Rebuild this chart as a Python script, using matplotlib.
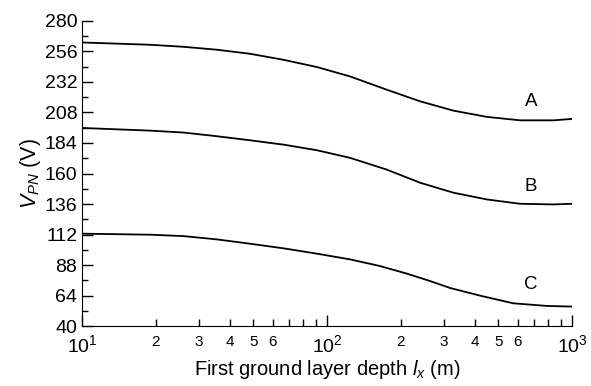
import matplotlib
matplotlib.use("Agg")
import matplotlib.pyplot as plt
from matplotlib.ticker import FixedLocator, FixedFormatter

plt.rcParams['font.family'] = ['Liberation Sans', 'DejaVu Sans']
plt.rcParams['mathtext.fontset'] = 'custom'
plt.rcParams['mathtext.rm'] = 'Liberation Sans'
plt.rcParams['mathtext.it'] = 'Liberation Sans:italic'

depth_a = [10, 18.95, 25.9, 35.5, 48.5, 66.3, 90.8, 124.1, 175, 240, 328, 449, 614, 839, 1000]
curve_a = [263.0, 261.2, 259.6, 257.3, 254.1, 249.4, 243.7, 236.3, 225.9, 216.7, 209.4, 204.5, 201.8, 201.8, 202.9]
depth_b = [10, 18.95, 25.9, 35.5, 48.5, 66.3, 90.8, 124.1, 175, 240, 328, 449, 614, 839, 1000]
curve_b = [195.8, 193.7, 192.2, 189.3, 186.1, 182.7, 178.3, 172.3, 163.1, 152.7, 144.9, 139.6, 136.2, 135.7, 136.2]
depth_c = [10, 18.95, 25.9, 35.5, 48.5, 66.3, 90.8, 124.1, 164, 210, 263, 318, 421, 574, 789, 1000]
curve_c = [112.7, 111.9, 110.8, 108.2, 104.8, 101.2, 97.0, 92.5, 87.3, 81.5, 75.5, 70.0, 64.0, 58.0, 55.9, 55.4]
curve_names = ['A', 'B', 'C']
label_pos = [(681, 216.7), (681, 150), (681, 72.9)]
y_ticks = [40, 64, 88, 112, 136, 160, 184, 208, 232, 256, 280]

fig = plt.figure(figsize=(5.91, 3.86), dpi=100)
ax = fig.add_axes([0.139, 0.155, 0.829, 0.791])

for xs, ys in ((depth_a, curve_a), (depth_b, curve_b), (depth_c, curve_c)):
    ax.plot(xs, ys, color='black', lw=1.3)

for name, (x, y) in zip(curve_names, label_pos):
    ax.text(x, y, name, fontsize=13.5, ha='center', va='center')

ax.set_xscale('log')
ax.set_xlim(10, 1000)
ax.set_ylim(40, 280)
ax.spines['top'].set_visible(False)
ax.spines['right'].set_visible(False)

ax.yaxis.set_major_locator(FixedLocator(y_ticks))
ax.yaxis.set_minor_locator(FixedLocator([v + 12 for v in y_ticks[:-1]]))
ax.set_xticks([10, 100, 1000])
ax.set_xticklabels([r'$10^1$', r'$10^2$', r'$10^3$'])
minor = [m * d for d in (10, 100) for m in range(2, 10)]
ax.xaxis.set_minor_locator(FixedLocator(minor))
minor_labels = [str(m) if m <= 6 else '' for d in (10, 100) for m in range(2, 10)]
ax.xaxis.set_minor_formatter(FixedFormatter(minor_labels))

ax.tick_params(axis='both', which='both', direction='in', width=1)
ax.tick_params(axis='both', which='major', length=8, labelsize=14)
ax.tick_params(axis='y', which='minor', length=4)
ax.tick_params(axis='x', which='minor', length=5, labelsize=11, pad=6)
ax.tick_params(axis='x', which='major', pad=6)

ax.set_ylabel(r'$V_{PN}$ (V)', fontsize=15.5, labelpad=1)
ax.set_xlabel(r'First ground layer depth $l_x$ (m)', fontsize=14.5, labelpad=1)

fig.savefig('out.png', dpi=100)
